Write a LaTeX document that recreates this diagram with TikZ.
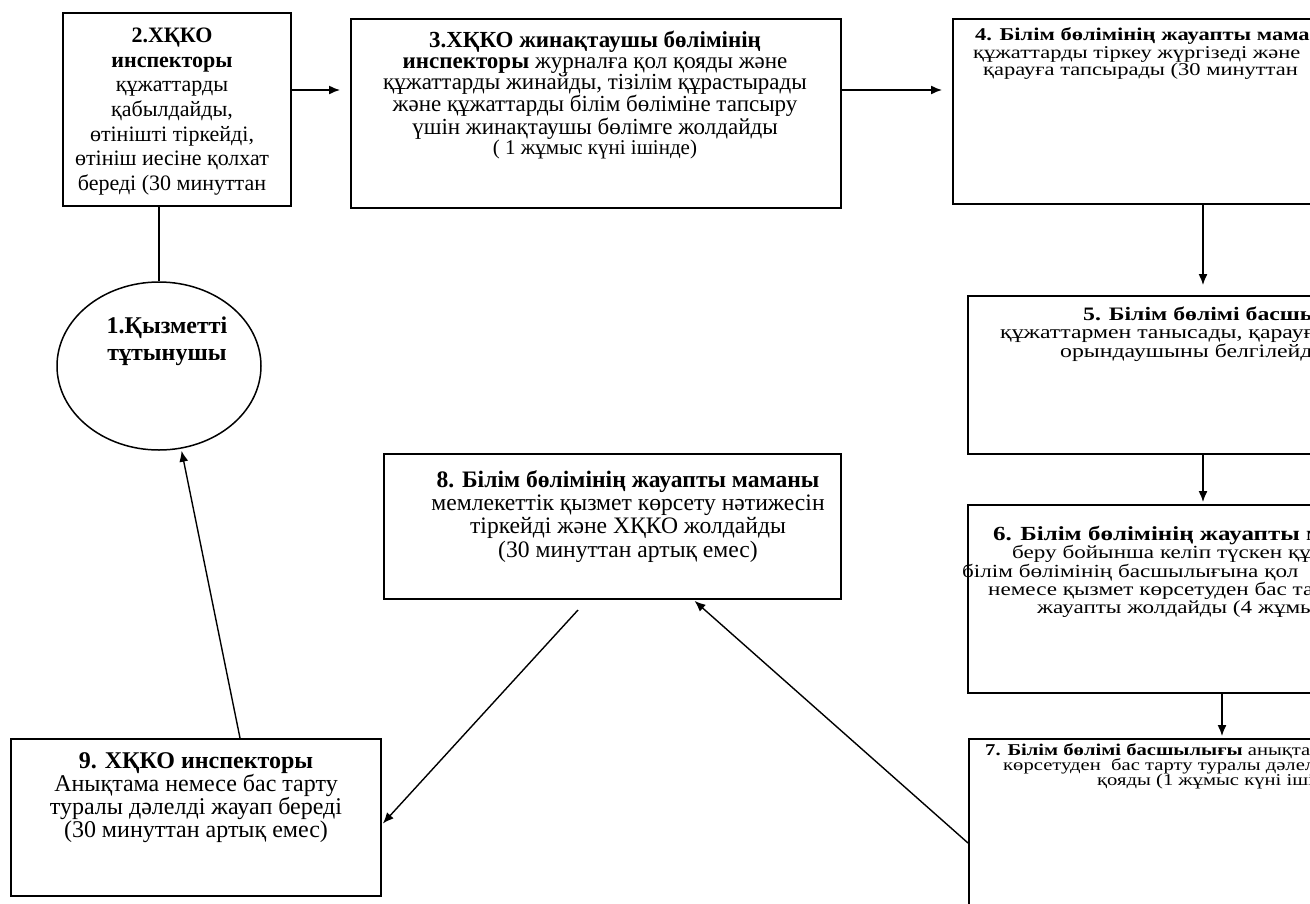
\documentclass[tikz,border=0pt]{standalone}
\usepackage{fontspec}
\setmainfont{Liberation Serif}
\usetikzlibrary{arrows.meta,shapes.geometric}
% text of the right column is set wider than it is tall
\newcommand{\wline}[1]{\scalebox{1.25}[1]{#1}}

\begin{document}
\begin{tikzpicture}[x=1pt,y=-1pt,
    box/.style={draw,line width=1.5pt,anchor=north west,inner sep=0pt},
    txt/.style={anchor=north,align=center,inner sep=0pt},
    rline/.style={anchor=base west,inner sep=0pt},
    arr/.style={line width=1.4pt,shorten >=10pt,-{Latex[length=11pt,width=9pt]}}]
  \useasboundingbox (0,0) rectangle (1310,903);
  \clip (0,0) rectangle (1310,903);
  % boxes
  \node[box,minimum width=228,minimum height=193] (b2) at (62,12) {};
  \node[box,ellipse,anchor=center,minimum width=204,minimum height=168] (e1) at (159,366) {};
  \node[box,minimum width=490,minimum height=189] (b3) at (350,18) {};
  \node[box,minimum width=600,minimum height=185] (b4) at (952,18) {};
  \node[box,minimum width=600,minimum height=158] (b5) at (967,295) {};
  \node[box,minimum width=600,minimum height=188] (b6) at (967,504) {};
  \node[box,minimum width=600,minimum height=200] (b7) at (968,738) {};
  \node[box,minimum width=457,minimum height=145] (b8) at (383,453) {};
  \node[box,minimum width=370,minimum height=157] (b9) at (10,738) {};
  % texts
  \node[txt,font=\fontsize{22}{24.6}\selectfont] (t2) at (172,28)
    {\textbf{2.ХҚКО}\\\textbf{инспекторы}\\құжаттарды\\қабылдайды,\\өтінішті тіркейді,\\өтініш иесіне қолхат\\береді (30 минуттан};
  \node[txt,font=\fontsize{24}{27}\selectfont\bfseries] (t1) at (167,317)
    {1.Қызметті\\тұтынушы};
  \node[txt,font=\fontsize{23}{20.8}\selectfont] (t3) at (595,31)
    {\textbf{3.ХҚКО жинақтаушы бөлімінің}\\\textbf{инспекторы} журналға қол қояды және\\құжаттарды жинайды, тізілім құрастырады\\және құжаттарды білім бөліміне тапсыру\\үшін жинақтаушы бөлімге жолдайды\\{\fontsize{21}{20.8}\selectfont( 1 жұмыс күні ішінде)}};
  \node[txt,font=\fontsize{23.6}{23.3}\selectfont] (t8) at (628,470)
    {\textbf{8. Білім бөлімінің жауапты маманы}\\мемлекеттік қызмет көрсету нәтижесін\\тіркейді және ХҚКО жолдайды\\(30 минуттан артық емес)};
  \node[txt,font=\fontsize{24}{21.7}\selectfont] (t9) at (196,752)
    {\textbf{9. ХҚКО инспекторы}\\Анықтама немесе бас тарту\\туралы дәлелді жауап береді\\(30 минуттан артық емес)};
  % right column, line by line
  \node[rline,font=\fontsize{18}{18}\selectfont\bfseries] (t4a) at (975,40) {\wline{4. Білім бөлімінің жауапты маманы}};
  \node[rline,font=\fontsize{18}{18}\selectfont] (t4b) at (973,58) {\wline{құжаттарды тіркеу жүргізеді және}};
  \node[rline,font=\fontsize{18}{18}\selectfont] (t4c) at (983,75) {\wline{қарауға тапсырады (30 минуттан}};
  \node[rline,font=\fontsize{19}{19}\selectfont\bfseries] (t5a) at (1083,320) {\wline{5. Білім бөлімі басшылығы}};
  \node[rline,font=\fontsize{19}{19}\selectfont] (t5b) at (1000,338) {\wline{құжаттармен танысады, қарауға}};
  \node[rline,font=\fontsize{19}{19}\selectfont] (t5c) at (1060,357) {\wline{орындаушыны белгілейді}};
  \node[rline,font=\fontsize{20}{20}\selectfont\bfseries] (t6a) at (993,540) {\wline{6. Білім бөлімінің жауапты маманы}};
  \node[rline,font=\fontsize{18.5}{18.5}\selectfont] (t6b) at (1012,558) {\wline{беру бойынша келіп түскен құжаттарды}};
  \node[rline,font=\fontsize{18.5}{18.5}\selectfont] (t6c) at (962,577) {\wline{білім бөлімінің басшылығына қол}};
  \node[rline,font=\fontsize{18.5}{18.5}\selectfont] (t6d) at (988,595) {\wline{немесе қызмет көрсетуден бас тарту}};
  \node[rline,font=\fontsize{18.5}{18.5}\selectfont] (t6e) at (1037,613) {\wline{жауапты жолдайды (4 жұмыс}};
  \node[rline,font=\fontsize{16.5}{16.5}\selectfont] (t7a) at (985,755) {\wline{\textbf{7. Білім бөлімі басшылығы} анықтамаға}};
  \node[rline,font=\fontsize{16.5}{16.5}\selectfont] (t7b) at (1003,770) {\wline{көрсетуден\ \ бас тарту туралы дәлелді}};
  \node[rline,font=\fontsize{16.5}{16.5}\selectfont] (t7c) at (1097,785) {\wline{қояды (1 жұмыс күні ішінде)}};
  % connectors
  \coordinate (r1) at (0,90);
  \coordinate (c1) at (1203,0);
  \coordinate (c2) at (1222,0);
  \coordinate (r7) at (0,843);
  \coordinate (c8) at (693,0);
  \coordinate (s8) at (578,610);
  \coordinate (r9) at (0,825);
  \coordinate (c9) at (240,0);
  \draw[line width=1.4pt] (b2.south -| e1.north) -- (e1.north);
  \draw[arr] (b2.east |- r1) -- (b3.west |- r1);
  \draw[arr] (b3.east |- r1) -- (b4.west |- r1);
  \draw[arr] (b4.south -| c1) -- (b5.north -| c1);
  \draw[arr,shorten >=2pt] (b5.south -| c1) -- (b6.north -| c1);
  \draw[arr,shorten >=2pt] (b6.south -| c2) -- (b7.north -| c2);
  \draw[arr,shorten >=2pt] (b7.west |- r7) -- (b8.south -| c8);
  \draw[arr,shorten >=2pt] (s8) -- (b9.east |- r9);
  \draw[arr,shorten >=2pt] (b9.north -| c9) -- (e1.285);
\end{tikzpicture}
\end{document}
